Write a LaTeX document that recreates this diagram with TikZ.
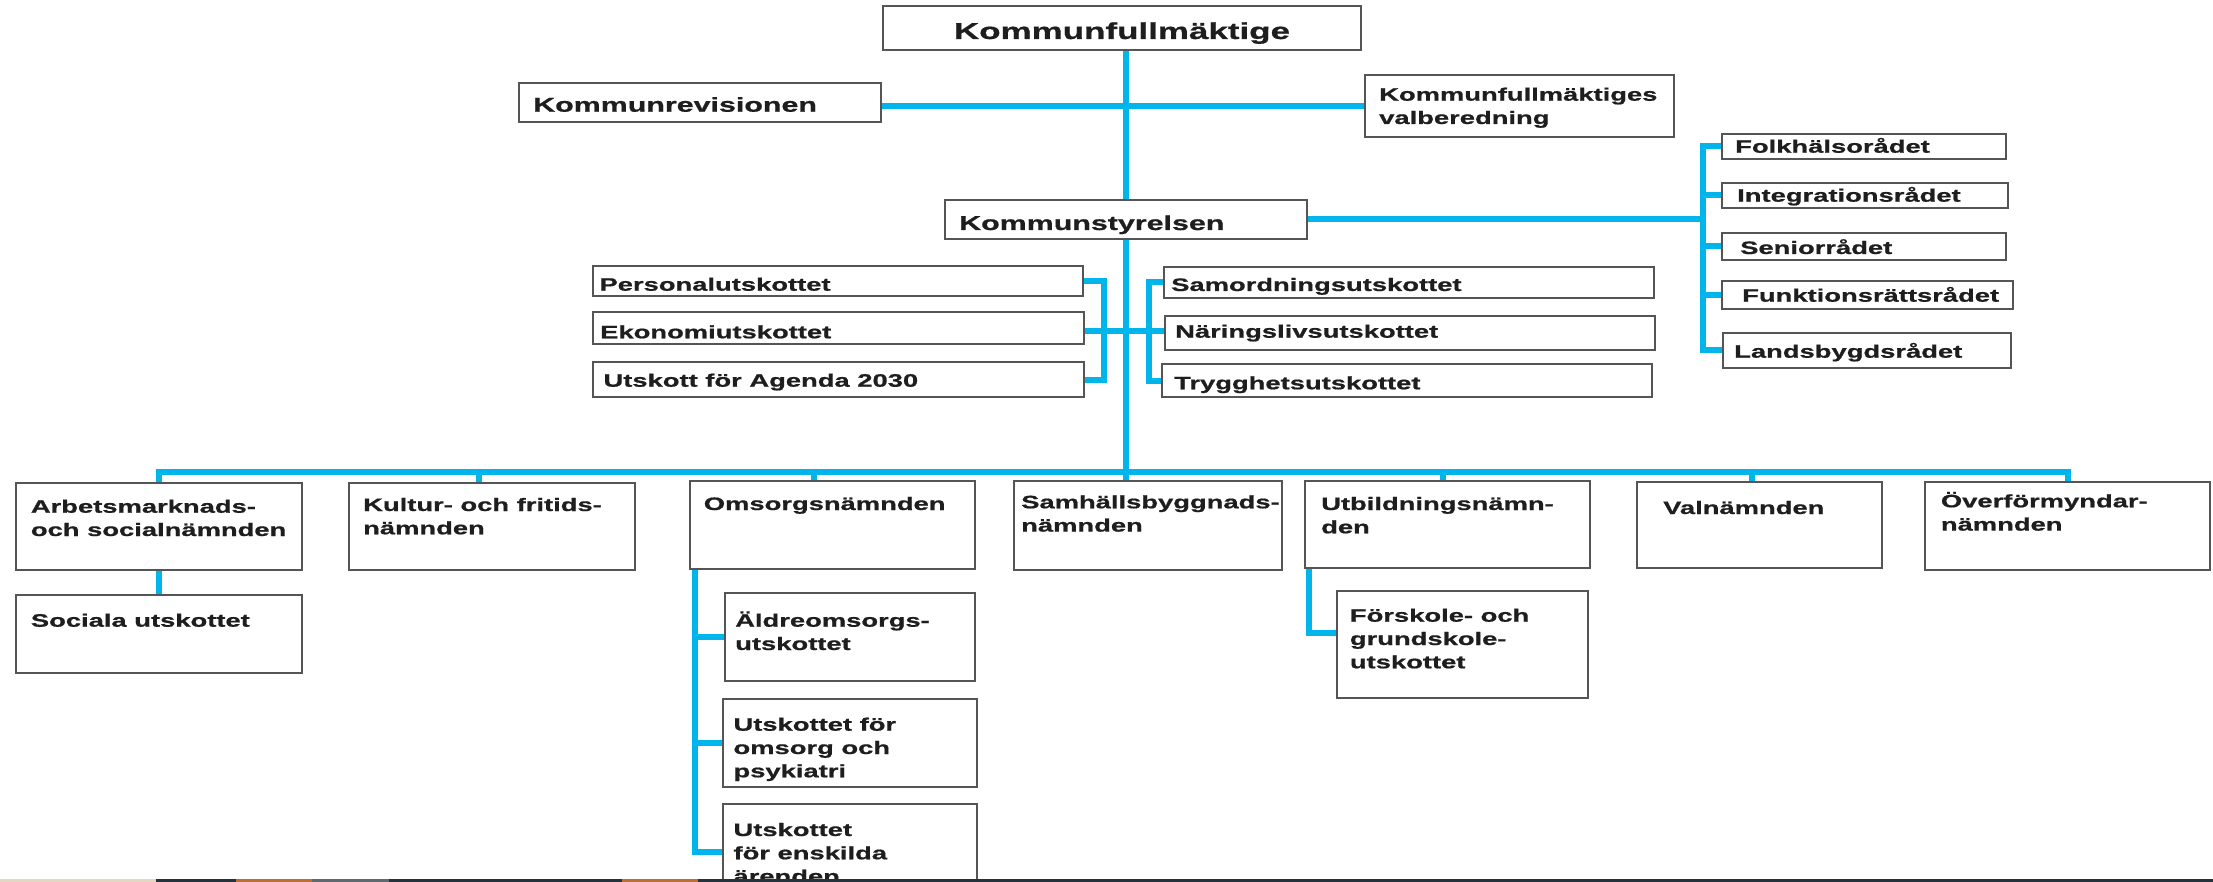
\documentclass[tikz,border=0pt]{standalone}
\usepackage{fontspec}
\setmainfont{Liberation Sans}[FakeStretch=1.52, BoldFeatures={FakeBold=0.8}]
\definecolor{kblue}{RGB}{0,180,236}
\definecolor{kframe}{RGB}{85,85,85}
\definecolor{ktext}{RGB}{30,30,30}
\definecolor{kdark}{RGB}{37,49,59}
\definecolor{korange}{RGB}{190,110,50}
\definecolor{kgray}{RGB}{95,105,110}
\definecolor{kbeige}{RGB}{225,215,195}
\pgfdeclarelayer{bg}
\pgfsetlayers{bg,main}
\newcommand\lns[1]{\vtop{\halign{##\hfil\cr#1\crcr}}}
\newcommand\kbox[5]{\node[kbox, minimum width={(#4-#2)*1pt}, minimum height={(#5-#3)*1pt}] (#1) at ({(#2+#4)/2},{(#3+#5)/2}) {};}
\begin{document}
\begin{tikzpicture}[x=1pt,y=-1pt,
  kbox/.style={draw=kframe, line width=1.8pt, fill=white, inner sep=0pt, outer sep=0pt},
  kline/.style={draw=kblue, line width=6pt, line join=miter},
  ktxt/.style={text=ktext, inner sep=0pt, anchor=base west, font=\bfseries\fontsize{18}{23.3}\selectfont},
  kbig/.style={ktxt, font=\bfseries\fontsize{20}{24}\selectfont},
]
\useasboundingbox (0,0) rectangle (2213,882);
\clip (0,0) rectangle (2213,882);

% boxes
\kbox{kf}{883}{6}{1361}{50}
\kbox{kr}{519}{83}{881}{122}
\kbox{valb}{1365}{75}{1674}{137}
\kbox{ks}{945}{200}{1307}{239}
\kbox{folk}{1722}{134}{2006}{159}
\kbox{integ}{1722}{183}{2008}{208}
\kbox{senior}{1722}{233}{2006}{260}
\kbox{funk}{1722}{281}{2013}{309}
\kbox{lands}{1723}{333}{2011}{368}
\kbox{pers}{593}{266}{1083}{296}
\kbox{ekon}{593}{312}{1084}{344}
\kbox{agenda}{593}{362}{1084}{397}
\kbox{samo}{1164}{267}{1654}{298}
\kbox{nar}{1165}{316}{1655}{350}
\kbox{tryg}{1162}{364}{1652}{397}
\kbox{arb}{16}{483}{302}{570}
\kbox{kul}{349}{483}{635}{570}
\kbox{oms}{690}{481}{975}{569}
\kbox{samh}{1014}{481}{1282}{570}
\kbox{utb}{1305}{481}{1590}{568}
\kbox{val}{1637}{482}{1882}{568}
\kbox{over}{1925}{482}{2210}{570}
\kbox{soc}{16}{595}{302}{673}
\kbox{aldre}{725}{593}{975}{681}
\kbox{psyk}{723}{699}{977}{787}
\kbox{ensk}{723}{804}{977}{899}
\kbox{forsk}{1337}{591}{1588}{698}

% helper coordinates
\coordinate (spine) at (1125.5,471.5);
\coordinate (kfy) at (0,105.7);
\coordinate (radbar) at (1703,0);
\coordinate (lbar) at (1104,0);
\coordinate (rbar) at (1149,0);
\coordinate (midy) at (0,331);
\coordinate (obar) at (695,0);
\coordinate (ubar) at (1309,0);
\coordinate (kt) at ([xshift=-13pt]kul.north);
\coordinate (ot) at ([xshift=-18.5pt]oms.north);
\coordinate (ut) at ([xshift=-5pt]utb.north);
\coordinate (vt) at ([xshift=-7.5pt]val.north);
\coordinate (fstub) at ([yshift=11.5pt]forsk.west);

\begin{pgfonlayer}{bg}
\draw[kline] (kf.south -| spine) -- (spine) -- (samh.north -| spine);
\draw[kline] (kr.east |- kfy) -- (valb.west |- kfy);
\draw[kline] (ks.east) -- (ks.east -| radbar);
\draw[kline] (folk.west) -- (folk.west -| radbar) -- (lands.west -| radbar) -- (lands.west);
\foreach \n in {integ,senior,funk} \draw[kline] (\n.west) -- (\n.west -| radbar);
\draw[kline] (pers.east) -- (pers.east -| lbar) -- (agenda.east -| lbar) -- (agenda.east);
\draw[kline] (ekon.east |- midy) -- (nar.west |- midy);
\draw[kline] (samo.west) -- (samo.west -| rbar) -- (tryg.west -| rbar) -- (tryg.west);
\draw[kline] (arb.north) -- (arb.north |- spine) -- (over.north |- spine) -- (over.north);
\draw[kline] (kt) -- (kt |- spine);
\draw[kline] (ot) -- (ot |- spine);
\draw[kline] (ut) -- (ut |- spine);
\draw[kline] (vt) -- (vt |- spine);
\draw[kline] (arb.south) -- (soc.north);
\draw[kline] (oms.south -| obar) -- (ensk.west -| obar) -- (ensk.west);
\draw[kline] (aldre.west) -- (aldre.west -| obar);
\draw[kline] (psyk.west) -- (psyk.west -| obar);
\draw[kline] (utb.south -| ubar) -- (fstub -| ubar) -- (fstub);
\end{pgfonlayer}

% texts
\node[ktxt, anchor=base, font=\bfseries\fontsize{23}{27}\selectfont] (t-kf) at (1122,39) {Kommunfullmäktige};
\node[kbig] (t-kr) at (533,111.7) {Kommunrevisionen};
\node[ktxt] (t-valb) at (1379,100.7) {\lns{Kommunfullmäktiges\cr valberedning}};
\node[kbig] (t-ks) at (959,230) {Kommunstyrelsen};
\node[ktxt] (t-folk) at (1735,152.7) {Folkhälsorådet};
\node[ktxt] (t-integ) at (1737,201.7) {Integrationsrådet};
\node[ktxt] (t-senior) at (1740,254) {Seniorrådet};
\node[ktxt] (t-funk) at (1742,301.7) {Funktionsrättsrådet};
\node[ktxt] (t-lands) at (1734,357.7) {Landsbygdsrådet};
\node[ktxt] (t-pers) at (599.3,290.7) {Personalutskottet};
\node[ktxt] (t-ekon) at (600,338.3) {Ekonomiutskottet};
\node[ktxt] (t-agenda) at (603.3,386.7) {Utskott för Agenda 2030};
\node[ktxt] (t-samo) at (1171,291) {Samordningsutskottet};
\node[ktxt] (t-nar) at (1175,337.7) {Näringslivsutskottet};
\node[ktxt] (t-tryg) at (1174,389.3) {Trygghetsutskottet};
\node[ktxt] (t-arb) at (30.7,512.7) {\lns{Arbetsmarknads-\cr och socialnämnden}};
\node[ktxt] (t-kul) at (363,511) {\lns{Kultur- och fritids-\cr nämnden}};
\node[ktxt] (t-oms) at (703.6,510) {Omsorgsnämnden};
\node[ktxt] (t-samh) at (1021,508.3) {\lns{Samhällsbyggnads-\cr nämnden}};
\node[ktxt] (t-utb) at (1321,510) {\lns{Utbildningsnämn-\cr den}};
\node[ktxt] (t-val) at (1663,514) {Valnämnden};
\node[ktxt] (t-over) at (1940.7,507.3) {\lns{Överförmyndar-\cr nämnden}};
\node[ktxt] (t-soc) at (30.7,626.7) {Sociala utskottet};
\node[ktxt] (t-aldre) at (735,626.7) {\lns{Äldreomsorgs-\cr utskottet}};
\node[ktxt] (t-psyk) at (733.3,730.7) {\lns{Utskottet för\cr omsorg och\cr psykiatri}};
\node[ktxt] (t-ensk) at (733.3,836) {\lns{Utskottet\cr för enskilda\cr ärenden}};
\node[ktxt] (t-forsk) at (1349.7,621.7) {\lns{Förskole- och\cr grundskole-\cr utskottet}};

% bottom strip
\fill[kdark] (0,879) rectangle (2213,882);
\fill[kbeige] (0,879) rectangle (156,882);
\fill[korange] (236,879) rectangle (312,882);
\fill[kgray] (312,879) rectangle (389,882);
\fill[korange] (622,879) rectangle (698,882);
\end{tikzpicture}
\end{document}
